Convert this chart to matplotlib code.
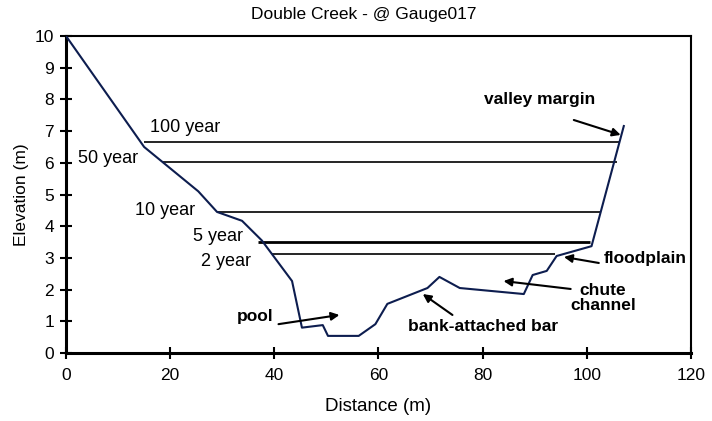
import matplotlib.pyplot as plt

# cross-section profile (distance m, elevation m)
distance = [0, 15, 25.4, 29, 33.8, 37.6, 43.4, 45.3, 49.3, 50.3, 56.2, 59.4,
            61.7, 69.4, 71.7, 75.6, 87.9, 89.6, 92.3, 94.2, 100.9, 107.1]
elevation = [10, 6.5, 5.1, 4.45, 4.17, 3.55, 2.27, 0.8, 0.88, 0.54, 0.54, 0.91,
             1.55, 2.05, 2.4, 2.05, 1.86, 2.46, 2.59, 3.06, 3.37, 7.16]

# flood stages
flood_names = ["100 year", "50 year", "10 year", "5 year", "2 year"]
flood_levels = [6.66, 6.02, 4.45, 3.5, 3.12]
flood_start = [15.0, 18.4, 29.0, 36.8, 39.6]
flood_end = [106.2, 105.8, 102.5, 100.6, 93.8]

plt.rcParams["font.family"] = ["Liberation Sans", "DejaVu Sans"]

fig = plt.figure(figsize=(7.12, 4.21), dpi=100)
ax = fig.add_axes([0.0927, 0.1615, 0.8778, 0.753])

for name, lev, x0, x1 in zip(flood_names, flood_levels, flood_start, flood_end):
    lw = 2.0 if name == "5 year" else 1.2
    ax.hlines(lev, x0, x1, color="black", lw=lw, zorder=2)

ax.plot(distance, elevation, color="#0d1d4f", lw=1.5, zorder=3)

# flood labels
label_pos = {"100 year": (16.2, 7.1), "50 year": (2.3, 6.15), "10 year": (13.3, 4.51),
             "5 year": (24.4, 3.66), "2 year": (26.0, 2.9)}
for name in flood_names:
    x, y = label_pos[name]
    ax.text(x, y, name, ha="left", va="center", fontsize=13)

arrow = dict(arrowstyle="-|>", color="black", lw=1.5, mutation_scale=12,
             shrinkA=0, shrinkB=0)

notes = [
    ("pool", (39.8, 1.14), "right", (40.8, 0.91), (52.5, 1.2)),
    ("bank-attached bar", (65.6, 0.85), "left", (74.2, 1.2), (68.5, 1.86)),
    ("chute\nchannel", (103.1, 1.73), "center", (96.9, 2.02), (84.0, 2.27)),
    ("floodplain", (103.3, 2.97), "left", (102.3, 2.84), (95.6, 3.03)),
    ("valley margin", (80.2, 8.01), "left", (97.5, 7.35), (106.5, 6.88)),
]
for text, pos, ha, tail, head in notes:
    ax.text(pos[0], pos[1], text, ha=ha, va="center", fontsize=12.5,
            fontweight="bold", linespacing=1.0)
    ax.annotate("", xy=head, xytext=tail, arrowprops=arrow)

ax.set_xlim(0, 120)
ax.set_ylim(0, 10)
ax.set_xticks(range(0, 121, 20))
ax.set_yticks(range(0, 11))
ax.tick_params(direction="inout", length=9, width=1.5, labelsize=12.5, pad=4)
ax.tick_params(axis="x", pad=6)
for side in ["left", "bottom"]:
    ax.spines[side].set_linewidth(2.2)
for side in ["top", "right"]:
    ax.spines[side].set_linewidth(1.5)

ax.set_xlabel("Distance (m)", fontsize=13.5, labelpad=11)
ax.set_ylabel("Elevation (m)", fontsize=12.5, labelpad=4)
ax.set_title("Double Creek - @ Gauge017", fontsize=12.5, pad=12, x=0.476)

fig.savefig("out.png", dpi=100)
